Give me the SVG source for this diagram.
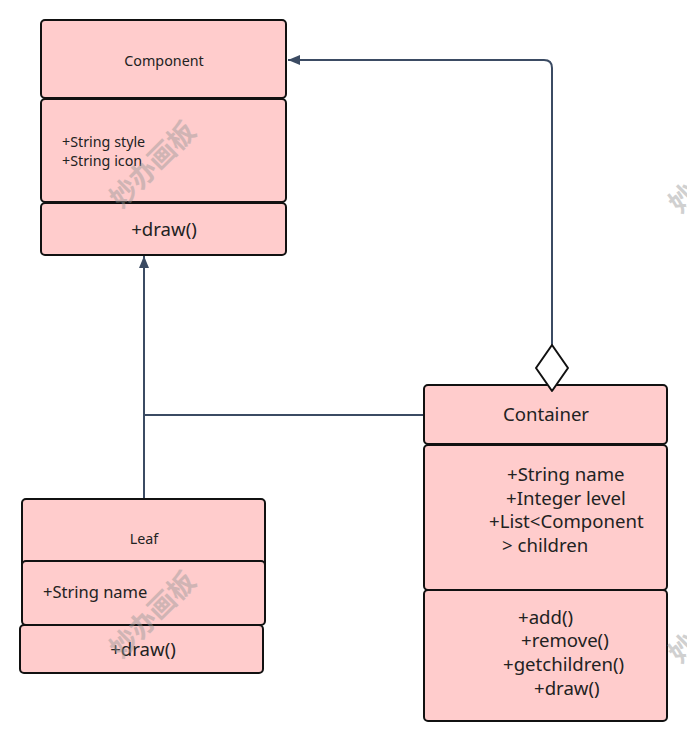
<svg xmlns="http://www.w3.org/2000/svg" width="687" height="741" viewBox="0 0 687 741">
<style>
.box{fill:#ffcccc;stroke:#111;stroke-width:2}
.t{font-family:"Noto Sans","Open Sans",sans-serif;fill:#222}
.s13{font-size:14.3px}
.s15{font-size:16.5px}
.s17{font-size:18.6px}
.c{text-anchor:middle}
.conn{fill:none;stroke:#3b4b63;stroke-width:2}
.wm{font-family:"Noto Sans CJK SC",sans-serif;font-size:27px;font-weight:bold;fill:#999;opacity:0.45}
</style>
<defs>
<marker id="tri" viewBox="0 0 12 10" refX="12" refY="5" markerWidth="12" markerHeight="10" markerUnits="userSpaceOnUse" orient="auto">
<path d="M0,0 L12,5 L0,10 Z" fill="#3b4b63"/>
</marker>
</defs>
<rect width="687" height="741" fill="#fff"/>
<g id="connectors">
<path class="conn" d="M552,345 V68 Q552,60 544,60 H288" marker-end="url(#tri)"/>
<path class="conn" d="M144,499 V256" marker-end="url(#tri)"/>
<path class="conn" d="M144,415 H424"/>
</g>
<g id="component">
<rect class="box" x="41" y="20" width="245" height="78" rx="4"/>
<rect class="box" x="41" y="99" width="245" height="103" rx="4"/>
<rect class="box" x="41" y="203" width="245" height="52" rx="4"/>
<text class="t s13 c" x="164" y="66">Component</text>
<text class="t s13" x="62" y="147">+String style</text>
<text class="t s13" x="62" y="166">+String icon</text>
<text class="t s17 c" x="164" y="236">+draw()</text>
</g>
<g id="leaf">
<rect class="box" x="22" y="499" width="243" height="80" rx="4"/>
<rect class="box" x="22" y="561" width="243" height="64" rx="4"/>
<rect class="box" x="20" y="625" width="243" height="48" rx="4"/>
<text class="t s13 c" x="144" y="544">Leaf</text>
<text class="t s15" x="43" y="598">+String name</text>
<text class="t s17 c" x="143" y="656">+draw()</text>
</g>
<g id="container">
<rect class="box" x="424" y="385" width="243" height="59" rx="4"/>
<rect class="box" x="424" y="445" width="243" height="145" rx="4"/>
<rect class="box" x="424" y="590" width="243" height="131" rx="4"/>
<path d="M552,345 L568,368 L552,391 L536,368 Z" fill="#fff" stroke="#111" stroke-width="2" stroke-linejoin="round"/>
<text class="t s17 c" x="546" y="421">Container</text>
<text class="t s17" x="507" y="481">+String name</text>
<text class="t s17" x="506" y="505">+Integer level</text>
<text class="t s17" x="489" y="528">+List&lt;Component</text>
<text class="t s17" x="502" y="552">&gt; children</text>
<text class="t s17" x="518" y="624">+add()</text>
<text class="t s17" x="521" y="647">+remove()</text>
<text class="t s17" x="503" y="671">+getchildren()</text>
<text class="t s17" x="534" y="695">+draw()</text>
</g>
<g id="watermarks">
<text class="wm" transform="translate(153,165) rotate(-45)" text-anchor="middle" dy="9">妙办画板</text>
<text class="wm" transform="translate(153,615) rotate(-45)" text-anchor="middle" dy="9">妙办画板</text>
<text class="wm" transform="translate(712,170) rotate(-45)" text-anchor="middle" dy="9">妙办画板</text>
<text class="wm" transform="translate(712,620) rotate(-45)" text-anchor="middle" dy="9">妙办画板</text>
</g>
</svg>
